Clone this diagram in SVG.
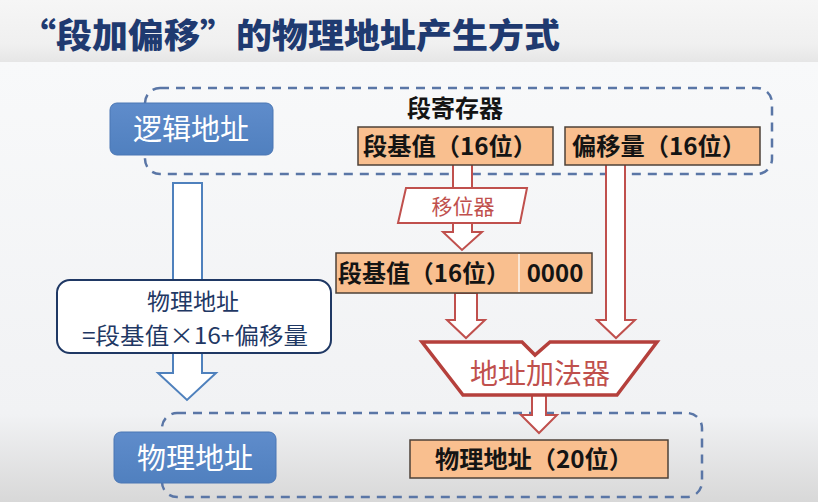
<svg xmlns="http://www.w3.org/2000/svg" width="818" height="502" viewBox="0 0 818 502">
<defs>
<linearGradient id="bgTop" x1="0" y1="0" x2="0" y2="1">
<stop offset="0" stop-color="#f6f6f6"/><stop offset="0.7" stop-color="#f0f0f0"/><stop offset="1" stop-color="#e6e6e6"/>
</linearGradient>
<linearGradient id="bgBody" x1="0" y1="0" x2="0" y2="1">
<stop offset="0" stop-color="#f8f9fa"/><stop offset="0.8" stop-color="#f1f2f4"/><stop offset="1" stop-color="#d8d8d8"/>
</linearGradient>
<linearGradient id="blueFill" x1="0" y1="0" x2="0" y2="1">
<stop offset="0" stop-color="#5f8ccb"/><stop offset="1" stop-color="#5080bf"/>
</linearGradient>
<style>
.title{font-family:"Noto Sans CJK SC","Noto Sans",sans-serif;font-weight:900;font-size:34px;fill:#1f3a70}
.dash{fill:none;stroke:#5a76a6;stroke-width:2.5;stroke-dasharray:9 7}
.bluebox{fill:url(#blueFill);stroke:#4a76b4;stroke-width:1}
.bluetxt{font-family:"Noto Sans CJK SC","Noto Sans",sans-serif;font-size:29px;fill:#ffffff;text-anchor:middle}
.reg{fill:#f9bf8f;stroke:#4d4238;stroke-width:1.5}
.regtxt{font-family:"Noto Sans CJK SC","Noto Sans",sans-serif;font-weight:bold;font-size:24px;fill:#141414}
.redarrow{fill:#ffffff;stroke:#c0504d;stroke-width:2;stroke-linejoin:miter}
.bluearrow{fill:#ffffff;stroke:#4f81bd;stroke-width:2}
.redtxt{font-family:"Noto Sans CJK SC","Noto Sans",sans-serif;fill:#c0504d;text-anchor:middle}
.formtxt{font-family:"Noto Sans CJK SC","Noto Sans",sans-serif;font-size:23px;fill:#1f3864;text-anchor:middle}
</style>
</defs>
<rect x="0" y="0" width="818" height="62" fill="url(#bgTop)"/>
<rect x="0" y="62" width="818" height="440" fill="url(#bgBody)"/>

<text class="title" x="20" y="48" textLength="540" lengthAdjust="spacingAndGlyphs">“段加偏移”的物理地址产生方式</text>

<g id="groups">
<rect id="logical-group" class="dash" x="145" y="88" width="627" height="86" rx="15"/>
<rect id="physical-group" class="dash" x="162" y="413" width="540" height="84" rx="15"/>
</g>

<g id="connectors">
<polygon class="bluearrow" points="173,183 202,183 202,373 216,373 187,400 158,373 173,373"/>
<rect class="redarrow" x="453" y="163" width="19" height="27"/>
<polygon class="redarrow" points="453,221 472,221 472,232 482,232 462,250 443,232 453,232"/>
<polygon class="redarrow" points="455,293 477,293 477,320 485,320 466,338 447,320 455,320"/>
<polygon class="redarrow" points="606,163 625,163 625,320 635,320 616,338 597,320 606,320"/>
<polygon class="redarrow" points="532,393 546,393 546,415 557,415 539,433 521,415 532,415"/>
</g>

<g id="logical-address">
<rect class="bluebox" x="110" y="103" width="163" height="52" rx="7"/>
<text class="bluetxt" x="191" y="140">逻辑地址</text>
</g>

<g id="segment-register-label">
<text class="regtxt" x="455" y="117" text-anchor="middle">段寄存器</text>
</g>

<g id="segment-base">
<rect class="reg" x="358" y="127" width="195" height="38"/>
<text class="regtxt" x="363" y="155" textLength="174" lengthAdjust="spacingAndGlyphs">段基值（16位）</text>
</g>

<g id="offset">
<rect class="reg" x="565" y="127" width="195" height="38"/>
<text class="regtxt" x="572" y="155" textLength="174" lengthAdjust="spacingAndGlyphs">偏移量（16位）</text>
</g>

<g id="shifter">
<polygon class="redarrow" points="406,188 527,188 520,223 398,223"/>
<text class="redtxt" x="463" y="214" font-size="21">移位器</text>
</g>

<g id="shifted-base">
<rect class="reg" x="336" y="253" width="256" height="40"/>
<line x1="519" y1="254" x2="519" y2="292" stroke="#fbe6d4" stroke-width="2"/>
<text class="regtxt" x="338" y="282" textLength="172" lengthAdjust="spacingAndGlyphs">段基值（16位）</text>
<text class="regtxt" x="555" y="282" text-anchor="middle">0000</text>
</g>

<g id="formula">
<rect x="57" y="280" width="274" height="73" rx="13" fill="#ffffff" stroke="#1f3864" stroke-width="2"/>
<text class="formtxt" x="193" y="310">物理地址</text>
<text class="formtxt" x="195" y="344" textLength="226" lengthAdjust="spacingAndGlyphs">=段基值×16+偏移量</text>
</g>

<g id="adder">
<polygon points="422,342 522,342 535,355 550,342 657,342 617,395 463,395" fill="#ffffff" stroke="#b5403c" stroke-width="3.5" stroke-linejoin="miter"/>
<text class="redtxt" x="540" y="384" font-size="28">地址加法器</text>
</g>

<g id="physical-address">
<rect class="bluebox" x="114" y="432" width="162" height="51" rx="7"/>
<text class="bluetxt" x="195" y="469">物理地址</text>
</g>

<g id="physical-20">
<rect class="reg" x="410" y="440" width="258" height="38"/>
<text class="regtxt" x="435" y="468" textLength="198" lengthAdjust="spacingAndGlyphs">物理地址（20位）</text>
</g>
</svg>
